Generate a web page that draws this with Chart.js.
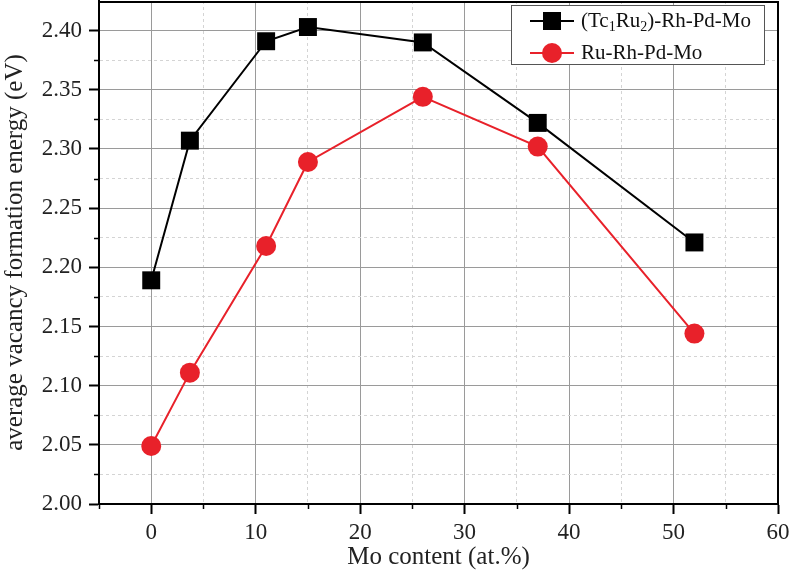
<!DOCTYPE html>
<html>
<head>
<meta charset="utf-8">
<script src="https://cdn.jsdelivr.net/npm/chart.js@4.4.1/dist/chart.umd.min.js"></script>
<style>
  html, body { margin: 0; padding: 0; background: #fff; }
  #wrap { width: 790px; height: 580px; position: relative; }
</style>
</head>
<body>
<div id="wrap"><canvas id="chart" width="790" height="580"></canvas></div>
<script>
// ---- data ----
const moContent = [0, 3.7, 11, 15, 26, 37, 52];
const tcRuValues = [2.189, 2.307, 2.391, 2.403, 2.390, 2.322, 2.221];
const ruValues = [2.049, 2.111, 2.218, 2.289, 2.344, 2.302, 2.144];

// legend labels, [text, isSubscript]
const tcRuLabel = [['(Tc', false], ['1', true], ['Ru', false], ['2', true], [')-Rh-Pd-Mo', false]];
const ruLabel = [['Ru-Rh-Pd-Mo', false]];

const xTitle = 'Mo content (at.%)';
const yTitle = 'average vacancy formation energy (eV)';

const RED = '#e8212a';
const SERIF = '"Liberation Serif", "Times New Roman", serif';

const isMajorX = (v) => Math.abs(v / 10 - Math.round(v / 10)) < 1e-6;
const isMajorY = (v) => Math.abs(v * 20 - Math.round(v * 20)) < 1e-6;

const toPoints = (xs, ys) => xs.map((x, i) => ({ x, y: ys[i] }));

// short minor ticks, frame on top/right, legend box
const extrasPlugin = {
  id: 'extras',
  afterDraw(chart) {
    const { ctx, chartArea: a, scales } = chart;
    ctx.save();
    ctx.strokeStyle = '#000';
    ctx.lineWidth = 1.5;
    scales.x.ticks.forEach(t => {
      if (isMajorX(t.value) || t.value >= 60) return;
      const px = Math.round(scales.x.getPixelForValue(t.value)) + 0.5;
      ctx.beginPath(); ctx.moveTo(px, a.bottom); ctx.lineTo(px, a.bottom + 5); ctx.stroke();
    });
    scales.y.ticks.forEach(t => {
      if (isMajorY(t.value) || t.value > 2.42) return;
      const py = Math.round(scales.y.getPixelForValue(t.value)) + 0.5;
      ctx.beginPath(); ctx.moveTo(a.left, py); ctx.lineTo(a.left - 5, py); ctx.stroke();
    });
    // frame
    ctx.lineWidth = 2;
    ctx.beginPath();
    ctx.moveTo(a.left, a.top + 1); ctx.lineTo(a.right, a.top + 1);
    ctx.moveTo(a.right, a.top); ctx.lineTo(a.right, a.bottom);
    ctx.stroke();

    // legend
    const bx = a.right - 267, by = a.top + 4, bw = 253, bh = 59;
    ctx.fillStyle = '#fff';
    ctx.fillRect(bx, by, bw, bh);
    ctx.strokeStyle = '#555';
    ctx.lineWidth = 1;
    ctx.strokeRect(bx + 0.5, by + 0.5, bw, bh);
    const rows = [
      { label: tcRuLabel, color: '#000', shape: 'rect', y: by + 16 },
      { label: ruLabel, color: RED, shape: 'circle', y: by + 48 },
    ];
    rows.forEach(r => {
      ctx.strokeStyle = r.color;
      ctx.fillStyle = r.color;
      ctx.lineWidth = 2;
      ctx.beginPath(); ctx.moveTo(bx + 19, r.y); ctx.lineTo(bx + 63, r.y); ctx.stroke();
      if (r.shape === 'rect') ctx.fillRect(bx + 32, r.y - 9, 18, 18);
      else { ctx.beginPath(); ctx.arc(bx + 41, r.y, 10, 0, Math.PI * 2); ctx.fill(); }
      ctx.fillStyle = '#111';
      ctx.textBaseline = 'middle';
      let tx = bx + 70;
      r.label.forEach(([s, sub]) => {
        ctx.font = (sub ? '14px ' : '21px ') + SERIF;
        ctx.fillText(s, tx, r.y + (sub ? 6 : 0));
        tx += ctx.measureText(s).width;
      });
    });
    ctx.restore();
  }
};

new Chart(document.getElementById('chart'), {
  type: 'scatter',
  data: {
    datasets: [
      {
        label: '(Tc1Ru2)-Rh-Pd-Mo',
        data: toPoints(moContent, tcRuValues),
        showLine: true,
        borderColor: '#000',
        backgroundColor: '#000',
        borderWidth: 2,
        pointStyle: 'rect',
        pointRadius: 12.7,
        pointBorderWidth: 0,
      },
      {
        label: 'Ru-Rh-Pd-Mo',
        data: toPoints(moContent, ruValues),
        showLine: true,
        borderColor: RED,
        backgroundColor: RED,
        borderWidth: 2,
        pointStyle: 'circle',
        pointRadius: 10,
        pointBorderWidth: 0,
      },
    ],
  },
  options: {
    responsive: false,
    animation: false,
    layout: { autoPadding: false, padding: { left: 0, right: 12, top: 1, bottom: 8 } },
    plugins: { legend: { display: false }, tooltip: { enabled: false } },
    scales: {
      x: {
        type: 'linear',
        min: -5, max: 60,
        afterFit: (s) => { s.height = 68; s.paddingLeft = 0; s.paddingRight = 0; },
        ticks: {
          stepSize: 5, autoSkip: false, maxRotation: 0, padding: 5,
          color: '#222', font: { family: SERIF, size: 23 },
          callback: (v) => (isMajorX(v) ? String(v) : ''),
        },
        grid: {
          color: (c) => (c.tick && isMajorX(c.tick.value) ? '#9a9a9a' : '#d4d4d4'),
          lineWidth: 1,
          tickLength: 10,
          tickWidth: 2,
          tickColor: (c) => (c.tick && isMajorX(c.tick.value) ? '#000' : 'rgba(0,0,0,0)'),
        },
        border: {
          color: '#000', width: 2,
          dash: (c) => (c.tick && isMajorX(c.tick.value) ? [] : [3, 3]),
        },
        title: { display: true, text: xTitle, color: '#222', font: { family: SERIF, size: 25 }, padding: 0 },
      },
      y: {
        min: 2.0, max: 2.425,
        afterFit: (s) => { s.width = 99; s.paddingTop = 0; s.paddingBottom = 0; },
        ticks: {
          stepSize: 0.025, autoSkip: false, padding: 7,
          color: '#222', font: { family: SERIF, size: 23 },
          callback: (v) => (isMajorY(v) ? v.toFixed(2) : ''),
        },
        grid: {
          color: (c) => (c.tick && isMajorY(c.tick.value) ? '#9a9a9a' : '#d4d4d4'),
          lineWidth: 1,
          tickLength: 10,
          tickWidth: 2,
          tickColor: (c) => (c.tick && isMajorY(c.tick.value) ? '#000' : 'rgba(0,0,0,0)'),
        },
        border: {
          color: '#000', width: 2,
          dash: (c) => (c.tick && isMajorY(c.tick.value) ? [] : [3, 3]),
        },
        title: { display: true, text: yTitle, color: '#222', font: { family: SERIF, size: 25 }, padding: 0 },
      },
    },
  },
  plugins: [extrasPlugin],
});
</script>
</body>
</html>
